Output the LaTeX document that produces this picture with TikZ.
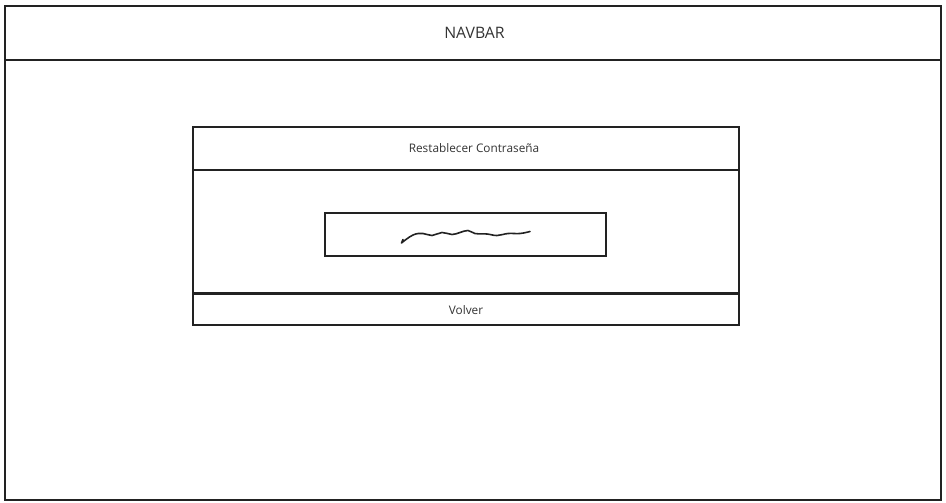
\documentclass[tikz,border=0pt]{standalone}
\usepackage{fontspec}
\setmainfont{Open Sans}
\definecolor{inkline}{HTML}{222222}
\definecolor{inktext}{HTML}{333333}
\begin{document}
\begin{tikzpicture}[x=1pt,y=-1pt]
    \tikzstyle{frame}=[rectangle, draw=inkline, line width=1.3pt, inner sep=0pt, outer sep=0pt, text=inktext]
    \tikzstyle{wide}=[frame, minimum width=546pt]

    \useasboundingbox (0,0) rectangle (946,503);

    % page and navbar
    \node [frame, minimum width=936pt, minimum height=494pt] (page) at (473,253) {};
    \node [frame, minimum width=936pt, minimum height=54pt, font=\fontsize{15.8}{18}\selectfont] (navbar) at (473,33) {\hspace*{3pt}NAVBAR};

    % card
    \node [wide, minimum height=43pt, font=\fontsize{11.8}{14}\selectfont] (title) at (466,148.5) {\hspace*{16pt}Restablecer Contraseña};
    \node [wide, minimum height=123pt] (body) at (466,231.5) {};
    \node [wide, minimum height=30.5pt, font=\fontsize{11.8}{14}\selectfont] (volver) at (466,309.75) {Volver};

    % password field
    \node [frame, minimum width=281pt, minimum height=43pt] (field) at (465.5,234.5) {};
    \draw [inkline, line width=1.6pt, line cap=round, line join=round]
      (403,239.5) -- (401.5,243)
      plot [smooth, tension=0.7] coordinates {(401.5,243) (413,235) (423,233.5) (432,235.5) (442,232.5)
        (452,234.5) (460,232.5) (468,230.5) (475,233.5) (487,234) (497,235.5) (508,233.5) (520,233.5) (530,231.5)};
  \end{tikzpicture}
\end{document}
